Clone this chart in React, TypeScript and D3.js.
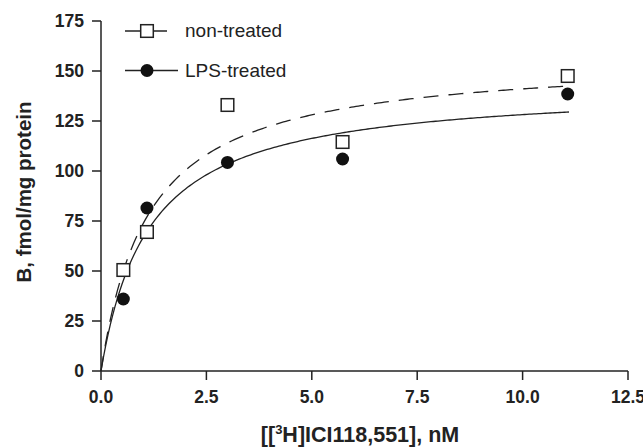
import React from 'react';
import * as d3 from 'd3';

const width = 643;
const height = 448;

// concentration (nM) and binding (fmol/mg protein)
const conc = [0.53, 1.09, 3.0, 5.73, 11.07];
const nonTreated = [50.5, 69.5, 133, 114.5, 147.5];
const lpsTreated = [36, 81.5, 104.3, 106, 138.5];

// one-site saturation fits, B = Bmax * x / (Kd + x)
const fitNon = { bmax: 157, kd: 1.13 };
const fitLps = { bmax: 142.8, kd: 1.14 };
const fitEnd = 11.1;

const xTicks = [0, 2.5, 5, 7.5, 10, 12.5];
const yTicks = [0, 25, 50, 75, 100, 125, 150, 175];

const x = d3.scaleLinear().domain([0, 12.5]).range([101, 628]);
const y = d3.scaleLinear().domain([0, 175]).range([371, 21]);

const fitLine = (p: { bmax: number; kd: number }) => {
  const xs = d3.range(0, 201).map((i) => (fitEnd * i) / 200);
  return d3
    .line<number>()
    .x((c) => x(c))
    .y((c) => y((p.bmax * c) / (p.kd + c)))(xs);
};

export default function App() {
  const ink = '#222';
  const tickFont = { fontFamily: 'Liberation Sans, Arial, sans-serif', fontWeight: 700, fontSize: 17.5, fill: ink };
  return (
    <svg width={width} height={height} style={{ position: 'absolute', left: 0, top: 0, background: '#fff' }}>
      <g fill="none" stroke={ink} strokeWidth={1.5}>
        <line x1={x(0)} x2={x(12.5)} y1={y(0)} y2={y(0)} />
        <line x1={x(0)} x2={x(0)} y1={y(0)} y2={y(175)} />
        {xTicks.map((t) => (
          <line key={'xt' + t} x1={x(t)} x2={x(t)} y1={y(0)} y2={y(0) + 9} />
        ))}
        {yTicks.map((t) => (
          <line key={'yt' + t} x1={x(0) - 9} x2={x(0)} y1={y(t)} y2={y(t)} />
        ))}
      </g>
      {xTicks.map((t) => (
        <text key={'xl' + t} x={x(t)} y={403} textAnchor="middle" {...tickFont}>
          {t.toFixed(1)}
        </text>
      ))}
      {yTicks.map((t) => (
        <text key={'yl' + t} x={84} y={y(t) + 6} textAnchor="end" {...tickFont}>
          {t}
        </text>
      ))}
      <text
        transform="translate(31,192) rotate(-90)"
        textAnchor="middle"
        {...tickFont}
        fontSize={20.5}
      >
        B, fmol/mg protein
      </text>
      <text x={360} y={442} textAnchor="middle" {...tickFont} fontSize={21.5}>
        [[<tspan fontSize={13} dy={-8}>3</tspan>
        <tspan dy={8}>H]ICI118,551], nM</tspan>
      </text>

      <path d={fitLine(fitNon) ?? ''} fill="none" stroke={ink} strokeWidth={1.3} strokeDasharray="15,10" />
      <path d={fitLine(fitLps) ?? ''} fill="none" stroke={ink} strokeWidth={1.3} />

      {conc.map((c, i) => (
        <rect
          key={'s' + i}
          x={x(c) - 6.3}
          y={y(nonTreated[i]) - 6.3}
          width={12.6}
          height={12.6}
          fill="#fff"
          stroke={ink}
          strokeWidth={1.5}
        />
      ))}
      {conc.map((c, i) => (
        <circle key={'c' + i} cx={x(c)} cy={y(lpsTreated[i])} r={6.5} fill="#111" />
      ))}

      <g stroke={ink} strokeWidth={1.5}>
        <line x1={125} x2={167} y1={31} y2={31} />
        <rect x={147 - 6.3} y={31 - 6.3} width={12.6} height={12.6} fill="#fff" />
        <line x1={125} x2={178} y1={70.5} y2={70.5} />
      </g>
      <circle cx={147} cy={70.5} r={6.5} fill="#111" />
      <g fontFamily="Liberation Sans, Arial, sans-serif" fontSize={19} fill={ink}>
        <text x={185} y={37}>non-treated</text>
        <text x={185} y={77}>LPS-treated</text>
      </g>
    </svg>
  );
}
